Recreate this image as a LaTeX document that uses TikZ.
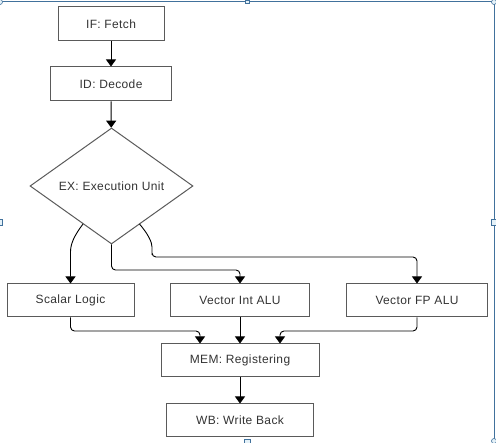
\documentclass[tikz,border=0pt]{standalone}
\usepackage{fontspec}
\setmainfont{Liberation Sans}[LetterSpace=3]
\usetikzlibrary{shapes.geometric,arrows.meta}
\definecolor{boxline}{HTML}{5A5A5A}
\definecolor{boxtext}{HTML}{333333}
\definecolor{selframe}{HTML}{41719C}
\definecolor{selhandle}{HTML}{E4F1F8}
\tikzset{
  stage/.style={draw=boxline, line width=1pt, text=boxtext, minimum height=34pt,
    inner sep=0pt, font=\fontsize{12}{14}\selectfont},
  flow/.style={draw=black, line width=0.9pt, rounded corners=4pt,
    -{Triangle[width=10pt,length=7pt]}},
  handle/.style={draw=selframe, fill=selhandle, line width=0.6pt}
}
\begin{document}
\begin{tikzpicture}[x=1pt,y=-1pt]
        \useasboundingbox (0,0) rectangle (496,443);

        % Selection frame of the picture
        \draw[selframe, line width=1pt] (0,2) -- (494,2) -- (494,443);
        \draw[handle] (0,2) circle (2.5);
        \draw[handle] (494,2) circle (2.5);
        \draw[handle] (494,441) circle (2.5);
        \draw[handle] (245.5,0) rectangle (249.5,3.5);
        \draw[handle] (-1,219) rectangle (2.5,225);
        \draw[handle] (491.5,219) rectangle (496,225);
        \draw[handle] (244.5,439.5) rectangle (250.5,443);

        % Pipeline stages
        \node[stage, minimum width=106pt] (if) at (111,24) {IF: Fetch};
        \node[stage, minimum width=121pt] (id) at (111,84) {ID: Decode};
        \node[stage, diamond, aspect=1.4, minimum width=163pt, minimum height=116pt]
            (ex) at (111.5,186) {EX: Execution Unit};

        % Execution units
        \node[stage, minimum width=127pt, minimum height=33pt] (scalar) at (70.5,300.5) {Scalar Logic};
        \node[stage, minimum width=139pt, minimum height=33pt] (vint) at (240,300.5) {Vector Int ALU};
        \node[stage, minimum width=141pt, minimum height=33pt] (vfp) at (417,300.5) {Vector FP ALU};

        % Write-back stages
        \node[stage, minimum width=158pt, minimum height=33pt] (mem) at (240,360.5) {MEM: Registering};
        \node[stage, minimum width=147pt, minimum height=33pt] (wb) at (240,420.5) {WB: Write Back};

        % Start points on the lower edges of the diamond
        \coordinate (exL) at (83,224);
        \coordinate (exR) at (139.5,224);

        % Fetch and decode
        \draw[flow] (if) -- (id);
        \draw[flow] (id) -- (ex);

        % Dispatch to the units
        \draw[flow] (exL) .. controls (74,236) and (70.5,244) .. (70.5,256) -- (scalar.north);
        \draw[flow] (ex.south) -- (111.5,270) -- (240,270) -- (vint.north);
        \draw[flow] (exR) .. controls (148,234) and (152,242) .. (152,251) -- (152,257)
            -- (417,257) -- (vfp.north);

        % Results into MEM
        \draw[flow] (scalar.south) -- (70.5,331) -- (200,331) -- ([xshift=-40pt]mem.north);
        \draw[flow] (vint) -- (mem);
        \draw[flow] (vfp.south) -- (417,331) -- (280,331) -- ([xshift=40pt]mem.north);
        \draw[flow] (mem) -- (wb);
\end{tikzpicture}
\end{document}
